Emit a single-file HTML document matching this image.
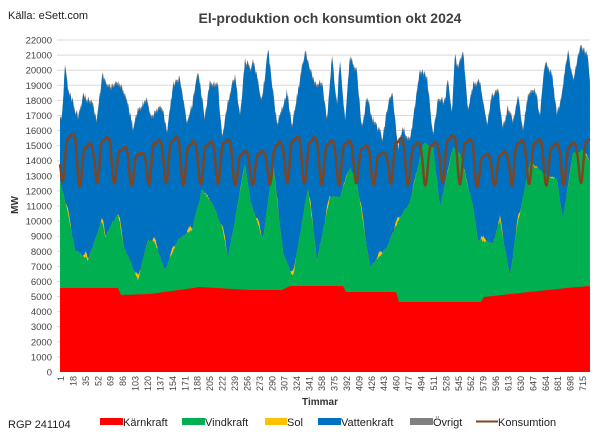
<!DOCTYPE html>
<html><head><meta charset="utf-8"><style>
body{margin:0;background:#fff;}
svg{display:block;font-family:"Liberation Sans",sans-serif;}
</style></head><body>
<svg id="s" width="600" height="436" viewBox="0 0 600 436" xmlns="http://www.w3.org/2000/svg">
<rect width="600" height="436" fill="#fff"/>
<g id="grid"></g>
<g id="areas"></g>
<g id="axes"></g>
<text x="8" y="19" font-size="11" fill="#222">Källa: eSett.com</text>
<text x="330" y="23" font-size="14" font-weight="bold" fill="#404040" text-anchor="middle">El-produktion och konsumtion okt 2024</text>
<text x="18" y="205" font-size="10" font-weight="bold" fill="#333" text-anchor="middle" transform="rotate(-90 18 205)">MW</text>
<text x="320" y="405" font-size="10" font-weight="bold" fill="#333" text-anchor="middle">Timmar</text>
<text x="8" y="428" font-size="11" fill="#222">RGP 241104</text>
<g font-size="11" fill="#222">
<rect x="100" y="418" width="23" height="7" fill="#FF0000"/><text x="123" y="426">Kärnkraft</text>
<rect x="182" y="418" width="23" height="7" fill="#00B050"/><text x="205" y="426">Vindkraft</text>
<rect x="265" y="418" width="22" height="7" fill="#FFC000"/><text x="287" y="426">Sol</text>
<rect x="318" y="418" width="23" height="7" fill="#0070C0"/><text x="341" y="426">Vattenkraft</text>
<rect x="410" y="418" width="23" height="7" fill="#808080"/><text x="433" y="426">Övrigt</text>
<line x1="476" y1="421.5" x2="498" y2="421.5" stroke="#7f4420" stroke-width="2"/><text x="498" y="426">Konsumtion</text>
</g>
</svg>
<script>
var NS="http://www.w3.org/2000/svg";
function el(t,a,p){var e=document.createElementNS(NS,t);for(var k in a)e.setAttribute(k,a[k]);p.appendChild(e);return e;}
var X0=60,X1=590,Y0=372,S=15.09;
var grid=document.getElementById('grid'),axes=document.getElementById('axes'),areas=document.getElementById('areas');
for(var k=0;k<=22;k++){var y=Y0-k*S;
 if(k>0)el('line',{x1:57,x2:590,y1:y,y2:y,stroke:'#d9d9d9','stroke-width':1},grid);
 var t=el('text',{x:52,y:y+3.5,'font-size':'9.5',fill:'#444','text-anchor':'end'},axes);t.textContent=k*1000;}
for(var i=0;i<43;i++){var h=1+17*i;var x=61+i*12.43;
 var t=el('text',{x:0,y:0,'font-size':'9',fill:'#444','text-anchor':'end',transform:'translate('+(x+3)+',376) rotate(-90)'},axes);t.textContent=h;}
function interp(pts,x){if(x<=pts[0][0])return pts[0][1];for(var i=1;i<pts.length;i++){if(x<=pts[i][0]){var a=pts[i-1],b=pts[i];return a[1]+(b[1]-a[1])*(x-a[0])/(b[0]-a[0]);}}return pts[pts.length-1][1];}
var red=[[60,288],[118,288],[121,295],[150,294],[200,287],[250,290],[282,290],[290,286],[343,286],[346,292],[396,292],[399,302],[481,302],[484,297],[520,293],[567,288],[590,286]];
var green=[[60,180],[68,213],[75,250],[88,260],[102,220],[105,237],[118,213],[124,247],[138,280],[148,240],[155,243],[165,270],[178,240],[192,230],[202,190],[212,203],[222,227],[228,257],[235,220],[245,163],[250,200],[263,240],[273,163],[283,253],[293,277],[308,187],[317,260],[330,197],[340,197],[350,167],[357,183],[370,267],[387,247],[400,217],[410,203],[423,143],[430,147],[433,147],[440,207],[453,147],[460,153],[473,207],[478,240],[493,243],[500,220],[510,277],[517,227],[530,163],[543,173],[557,180],[563,220],[573,153],[583,150],[590,163]];
var blue=[[60,120],[62,120],[65,67],[68,90],[78,120],[83,98],[92,103],[97,123],[102,77],[108,90],[118,83],[127,100],[133,130],[138,110],[147,102],[152,120],[162,107],[167,133],[173,87],[180,80],[187,123],[192,107],[198,73],[205,120],[210,83],[218,87],[222,140],[227,107],[235,77],[240,120],[245,63],[252,70],[253,60],[262,103],[268,50],[277,127],[287,93],[292,127],[305,53],[315,87],[322,83],[327,123],[332,57],[337,107],[340,60],[345,123],[350,57],[357,73],[362,133],[367,97],[372,120],[378,130],[383,140],[387,110],[392,93],[398,150],[403,130],[410,143],[420,70],[427,80],[433,137],[438,100],[445,103],[448,80],[452,113],[455,53],[458,73],[463,50],[468,110],[473,87],[480,83],[487,127],[492,97],[498,90],[503,130],[508,110],[513,123],[518,97],[523,130],[528,97],[535,90],[540,117],[545,63],[552,77],[557,117],[562,93],[568,53],[573,83],[580,50],[587,53],[590,83]];
var seed=7;function rnd(){seed=(seed*16807)%2147483647;return seed/2147483647;}
var xs=[],R=[],G=[],Yl=[],B=[],T=[],C=[];
var dx=0.72,idx=0,dayOff=[];
for(var dd=0;dd<32;dd++)dayOff.push((rnd()-0.5)*10);
for(var x=X0;x<=X1+0.01;x+=dx,idx++){
 var r=interp(red,x),g=interp(green,x)+(rnd()-0.5)*3,b=interp(blue,x)+(rnd()-0.5)*7;
 var hr=idx%24,day=Math.floor(idx/24);
 var sol=0;if(hr>=8&&hr<=16){sol=Math.sin(Math.PI*(hr-8)/8);sol=sol*(g>200?5:1.5);}
 if(b>g-sol-3)b=g-sol-3;
 xs.push(x);R.push(r);G.push(g);Yl.push(g-sol);B.push(b);T.push(b-2.5);
 var wk=(day+2)%7;
 var dv=0.5*(1+Math.cos(2*Math.PI*(hr-3.5)/24));var f=1-Math.pow(dv,3);
 f-=0.08*Math.max(0,Math.sin(Math.PI*(hr-10)/6))*(hr>=10&&hr<=16?1:0);
 var peak=(wk==5||wk==6)?150:139;peak+=dayOff[day];
 var trough=186+dayOff[day]*0.4;
 var c=trough-(trough-peak)*f+(rnd()-0.5)*2.5;
 C.push(c);
}
var C2=C.map(function(v,i){var s=0,n=0;for(var j=i-1;j<=i+1;j++)if(j>=0&&j<C.length){s+=C[j];n++;}return s/n;});
function area(arr,fill){var d='M'+xs[0]+','+Y0;for(var i=0;i<xs.length;i++)d+='L'+xs[i].toFixed(1)+','+arr[i].toFixed(1);d+='L'+xs[xs.length-1]+','+Y0+'Z';el('path',{d:d,fill:fill},areas);}
area(T,'#808080');area(B,'#0070C0');area(Yl,'#FFC000');area(G,'#00B050');area(R,'#FF0000');
var d='';for(var i=0;i<xs.length;i++)d+=(i?'L':'M')+xs[i].toFixed(1)+','+C2[i].toFixed(1);
el('path',{d:d,fill:'none',stroke:'#7f4420','stroke-width':2.4,'stroke-linejoin':'round'},areas);
</script>
</body></html>
